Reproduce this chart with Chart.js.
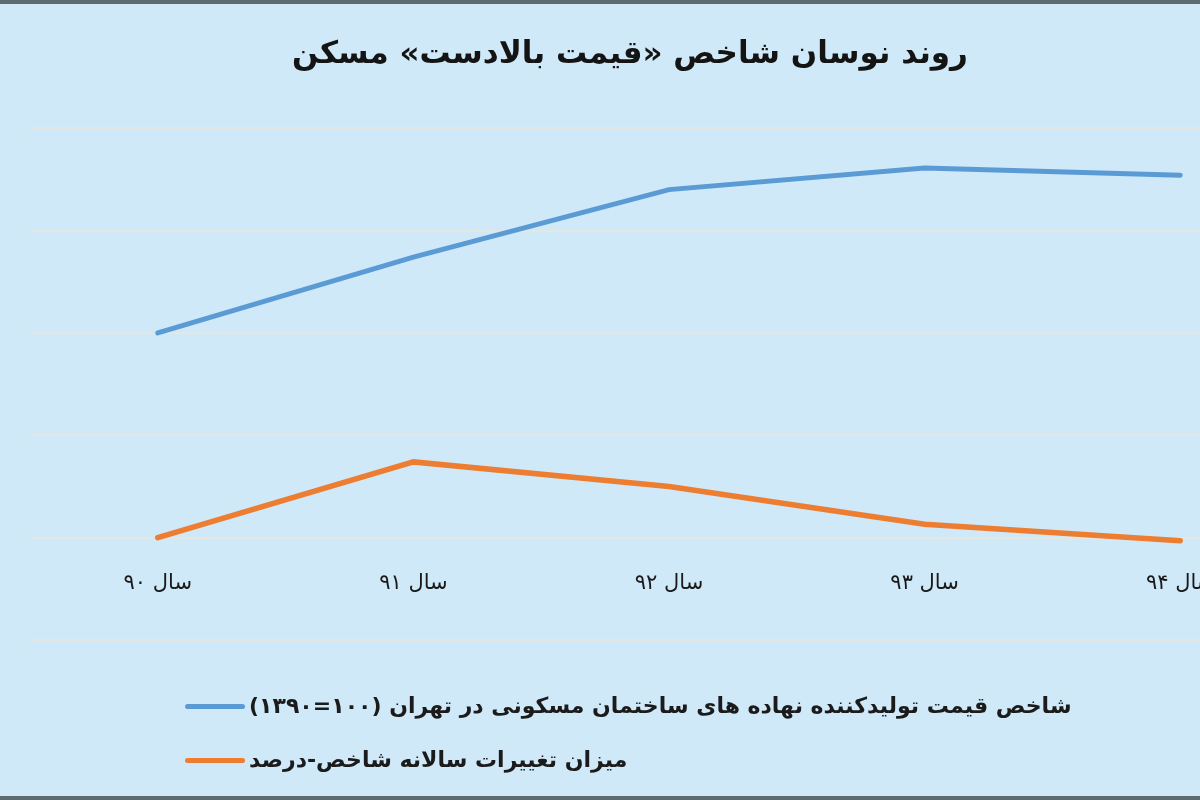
<!DOCTYPE html>
<html>
<head>
<meta charset="utf-8">
<script src="https://cdn.jsdelivr.net/npm/chart.js@4.4.1/dist/chart.umd.min.js"></script>
<style>
  html, body { margin: 0; padding: 0; background: #d0e9f9; }
  #frame { position: relative; width: 1200px; height: 800px; overflow: hidden; background: #d0e9f9; }
  #box { position: absolute; left: -60px; top: 0; width: 1380px; height: 800px; }
  .edge { position: absolute; left: 0; width: 1200px; height: 4px; background: #5d6a73; z-index: 3; }
  #legend { position: absolute; left: 185px; top: 688px; z-index: 2; }
  .item { position: relative; height: 54px; }
  .swatch { position: absolute; left: 0; top: 16px; width: 60px; height: 5px; border-radius: 3px; }
  .label { position: absolute; left: 64px; top: 5px; white-space: nowrap; direction: rtl;
           font-family: "DejaVu Sans", sans-serif; font-weight: bold; font-size: 22px; color: #1b1b1b; }
</style>
</head>
<body>
<div id="frame">
  <div class="edge" style="top:0"></div>
  <div class="edge" style="bottom:0"></div>
  <div id="box"><canvas id="trendChart"></canvas></div>
  <div id="legend"></div>
</div>
<script>
// داده ها
var years = ['سال ۹۰', 'سال ۹۱', 'سال ۹۲', 'سال ۹۳', 'سال ۹۴'];
var indexValues = [100, 137, 170, 180.5, 177];
var changeValues = [0, 37, 25, 6.5, -1.5];
var seriesNames = [
  'شاخص قیمت تولیدکننده نهاده های ساختمان مسکونی در تهران (۱۰۰=۱۳۹۰)',
  'میزان تغییرات سالانه شاخص-درصد'
];
var seriesColors = ['#5b9bd5', '#ed7d31'];
var yMin = -50;
var yMax = 200;
var yStep = 50;

var fontName = '"DejaVu Sans", sans-serif';

var chart = new Chart(document.getElementById('trendChart').getContext('2d'), {
  type: 'line',
  data: {
    labels: years,
    datasets: [{
      label: seriesNames[0],
      data: indexValues,
      borderColor: seriesColors[0],
      backgroundColor: seriesColors[0],
      borderWidth: 5,
      pointRadius: 0,
      tension: 0,
      borderCapStyle: 'round'
    }, {
      label: seriesNames[1],
      data: changeValues,
      borderColor: seriesColors[1],
      backgroundColor: seriesColors[1],
      borderWidth: 5.5,
      pointRadius: 0,
      tension: 0,
      borderCapStyle: 'round'
    }]
  },
  options: {
    responsive: true,
    maintainAspectRatio: false,
    animation: false,
    layout: { padding: { left: 12, right: 12, top: 0, bottom: 160 } },
    plugins: {
      legend: { display: false },
      tooltip: { enabled: false },
      title: {
        display: true,
        text: 'روند نوسان شاخص «قیمت بالادست» مسکن',
        color: '#141414',
        font: { family: fontName, size: 31, weight: 'bold', lineHeight: 1.2 },
        padding: { top: 36, bottom: 55 }
      }
    },
    scales: {
      x: {
        type: 'category',
        position: { y: 0 },
        offset: true,
        grid: { display: false, drawTicks: false },
        border: { display: false },
        ticks: {
          color: '#1a1a1a',
          padding: 33,
          maxRotation: 0,
          font: { family: fontName, size: 21, lineHeight: 1.2 }
        }
      },
      y: {
        min: yMin,
        max: yMax,
        border: { display: false },
        grid: { color: '#e4e6e1', lineWidth: 2, drawTicks: false },
        ticks: { display: false, stepSize: yStep },
        afterFit: function(scale) {
          scale.width = 78;
        }
      }
    }
  }
});

// راهنما
var legendBox = document.getElementById('legend');
chart.data.datasets.forEach(function(ds) {
  var row = document.createElement('div');
  row.className = 'item';
  var sw = document.createElement('div');
  sw.className = 'swatch';
  sw.style.background = ds.borderColor;
  var tx = document.createElement('div');
  tx.className = 'label';
  tx.textContent = ds.label;
  row.appendChild(sw);
  row.appendChild(tx);
  legendBox.appendChild(row);
});
</script>
</body>
</html>
